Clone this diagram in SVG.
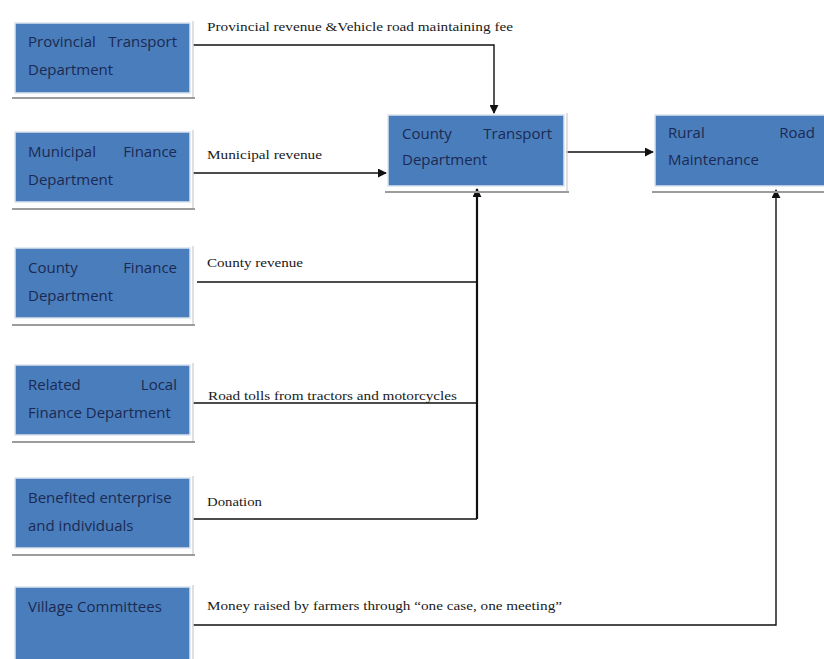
<svg xmlns="http://www.w3.org/2000/svg" width="824" height="659" viewBox="0 0 824 659">
<style>
.box{fill:#4a7dbc;stroke:#dbe3ee;stroke-width:1.5}
.sh{fill:none;stroke:#9c9c9c;stroke-width:2}
.shr{fill:none;stroke:#d6d6d6;stroke-width:1.5}
.bt{font-family:"Open Sans","Liberation Sans",sans-serif;font-size:15px;fill:#1b2a52}
.lb{font-family:"Liberation Serif","Times New Roman",serif;font-size:13.5px;fill:#1a1a1a}
.ln{fill:none;stroke:#111;stroke-width:1.4}
.lnb{fill:none;stroke:#111;stroke-width:2.2}
</style>
<defs>
<marker id="ah2" viewBox="0 0 10 10" refX="9" refY="5" markerWidth="9" markerHeight="9" orient="auto" markerUnits="userSpaceOnUse">
<path d="M0,0 L10,5 L0,10 z" fill="#111"/>
</marker>
</defs>
<rect width="824" height="659" fill="#fff"/>

<g id="connectors">
<path class="ln" d="M193,45 H494 V113" marker-end="url(#ah2)"/>
<path class="ln" d="M193,173 H386" marker-end="url(#ah2)"/>
<path class="ln" d="M197,282 H477"/>
<path class="ln" d="M193,403 H477"/>
<path class="ln" d="M193,519 H477"/>
<path class="lnb" d="M477,519 V189" marker-end="url(#ah2)"/>
<path class="ln" d="M193,625 H776 V190" marker-end="url(#ah2)"/>
<path class="ln" d="M566,152 H653" marker-end="url(#ah2)"/>
<text class="lb" x="207" y="31" textLength="306" lengthAdjust="spacingAndGlyphs">Provincial revenue &amp;Vehicle road maintaining fee</text>
<text class="lb" x="207" y="159" textLength="115" lengthAdjust="spacingAndGlyphs">Municipal revenue</text>
<text class="lb" x="207" y="267" textLength="96" lengthAdjust="spacingAndGlyphs">County revenue</text>
<text class="lb" x="208" y="400" textLength="249" lengthAdjust="spacingAndGlyphs">Road tolls from tractors and motorcycles</text>
<text class="lb" x="207" y="506" textLength="55" lengthAdjust="spacingAndGlyphs">Donation</text>
<text class="lb" x="207" y="610" textLength="355" lengthAdjust="spacingAndGlyphs">Money raised by farmers through “one case, one meeting”</text>
</g>

<g id="provincial-transport">
<path class="shr" d="M193,21 V98"/>
<path class="sh" d="M12,98 H195"/>
<rect class="box" x="15" y="23" width="175" height="70"/>
<text class="bt" x="28" y="47">Provincial</text>
<text class="bt" x="177" y="47" text-anchor="end">Transport</text>
<text class="bt" x="28" y="75">Department</text>
</g>

<g id="municipal-finance">
<path class="shr" d="M193,130 V209"/>
<path class="sh" d="M12,209 H195"/>
<rect class="box" x="15" y="132" width="175" height="70"/>
<text class="bt" x="28" y="157">Municipal</text>
<text class="bt" x="177" y="157" text-anchor="end">Finance</text>
<text class="bt" x="28" y="185">Department</text>
</g>

<g id="county-finance">
<path class="shr" d="M193,246 V325"/>
<path class="sh" d="M12,325 H195"/>
<rect class="box" x="15" y="248" width="175" height="70"/>
<text class="bt" x="28" y="273">County</text>
<text class="bt" x="177" y="273" text-anchor="end">Finance</text>
<text class="bt" x="28" y="301">Department</text>
</g>

<g id="related-local-finance">
<path class="shr" d="M193,363 V442"/>
<path class="sh" d="M12,442 H195"/>
<rect class="box" x="15" y="365" width="175" height="70"/>
<text class="bt" x="28" y="390">Related</text>
<text class="bt" x="177" y="390" text-anchor="end">Local</text>
<text class="bt" x="28" y="418">Finance Department</text>
</g>

<g id="benefited-enterprise">
<path class="shr" d="M193,476 V555"/>
<path class="sh" d="M12,555 H195"/>
<rect class="box" x="15" y="478" width="175" height="70"/>
<text class="bt" x="28" y="503">Benefited enterprise</text>
<text class="bt" x="28" y="531">and individuals</text>
</g>

<g id="village-committees">
<path class="shr" d="M193,585 V659"/>
<rect class="box" x="15" y="587" width="175" height="75"/>
<text class="bt" x="28" y="612">Village Committees</text>
</g>

<g id="county-transport">
<path class="shr" d="M567,113 V192"/>
<path class="sh" d="M385,192 H569"/>
<rect class="box" x="388" y="115" width="176" height="71"/>
<text class="bt" x="402" y="139">County</text>
<text class="bt" x="552" y="139" text-anchor="end">Transport</text>
<text class="bt" x="402" y="165">Department</text>
</g>

<g id="rural-road-maintenance">
<path class="sh" d="M652,192 H824"/>
<rect class="box" x="655" y="115" width="172" height="71"/>
<text class="bt" x="668" y="138">Rural</text>
<text class="bt" x="815" y="138" text-anchor="end">Road</text>
<text class="bt" x="668" y="165">Maintenance</text>
</g>
</svg>
